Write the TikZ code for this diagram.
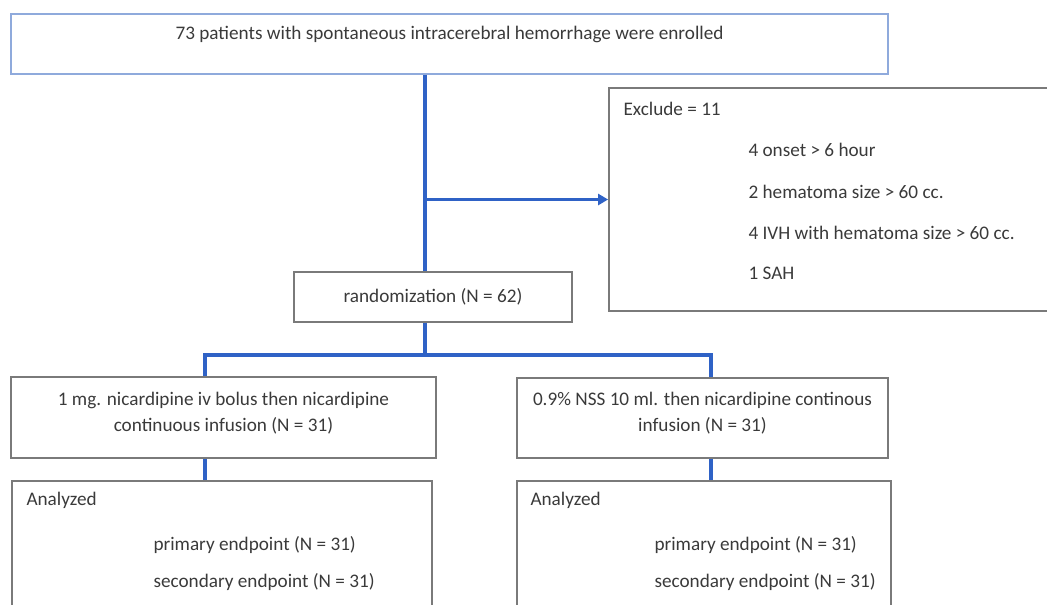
\documentclass[tikz,border=0pt]{standalone}
\usepackage{fontspec}
\setmainfont{Carlito}
\usetikzlibrary{arrows.meta}
\definecolor{flowblue}{HTML}{2F62C6}
\definecolor{boxgray}{HTML}{7A7A7A}
\definecolor{topframe}{HTML}{8FAADC}
\definecolor{txtgray}{HTML}{3A3A3A}
\begin{document}
\begin{tikzpicture}[x=1pt, y=-1pt,
  every node/.style={font=\fontsize{19.2}{26}\selectfont, text=txtgray},
  b/.style={draw=boxgray, line width=1.8pt, inner sep=0pt, align=center},
  link/.style={draw=flowblue, line width=3.2pt}]
  \useasboundingbox (0,0) rectangle (1047,605);
  \clip (0,0) rectangle (1047,605);
  % enrolment
  \node[b, draw=topframe, line width=1.5pt, minimum width=877pt, minimum height=60pt] (enrol) at (449.5,44) {};
  \node (enroltxt) at (449.5,34) {73 patients with spontaneous intracerebral hemorrhage were enrolled};
  % exclusion
  \node[b, minimum width=451pt, minimum height=223pt] (excl) at (834.5,199.5) {};
  \node[anchor=west] (exclhead) at (620,109) {Exclude = 11};
  \node[anchor=west] (ex1) at (745,150) {4 onset > 6 hour};
  \node[anchor=west] (ex2) at (745,192) {2 hematoma size > 60 cc.};
  \node[anchor=west] (ex3) at (745,233) {4 IVH with hematoma size > 60 cc.};
  \node[anchor=west] (ex4) at (745,273) {1 SAH};
  % randomization
  \node[b, minimum width=278pt, minimum height=50pt] (rand) at (433,297) {randomization  (N = 62)};
  % arms
  \node[b, minimum width=425pt, minimum height=81pt, text depth=12pt] (left) at (223.5,417.5)
    {1 mg. nicardipine  iv bolus then nicardipine\\continuous infusion (N = 31)};
  \node[b, minimum width=371pt, minimum height=80pt, text depth=12pt] (right) at (702.5,418)
    {0.9\% NSS 10 ml. then nicardipine  continous\\infusion (N = 31)};
  % analysis
  \node[b, minimum width=420pt, minimum height=140pt] (lefta) at (222,551) {};
  \node[anchor=west] (la0) at (23,500) {Analyzed};
  \node[anchor=west] (la1) at (150,545) {primary endpoint (N = 31)};
  \node[anchor=west] (la2) at (150,582) {secondary endpoint (N = 31)};
  \node[b, minimum width=374pt, minimum height=140pt] (righta) at (704,551) {};
  \node[anchor=west] (ra0) at (527,500) {Analyzed};
  \node[anchor=west] (ra1) at (651,545) {primary endpoint (N = 31)};
  \node[anchor=west] (ra2) at (651,582) {secondary endpoint (N = 31)};
  % connectors
  \coordinate (stem) at (425,0);
  \coordinate (lft) at (205,0);
  \coordinate (rgt) at (711,0);
  \coordinate (split) at (425,355);
  \draw[link] (enrol.south -| stem) -- (rand.north -| stem);
  \draw[link, -{Triangle[length=10pt,width=11pt]}] (stem |- excl.west) -- (excl.west);
  \draw[link] (rand.south -| stem) -- (split);
  \draw[link] (left.north -| lft) |- (split) -| (right.north -| rgt);
  \draw[link] (left.south -| lft) -- (lefta.north -| lft);
  \draw[link] (right.south -| rgt) -- (righta.north -| rgt);
\end{tikzpicture}
\end{document}
